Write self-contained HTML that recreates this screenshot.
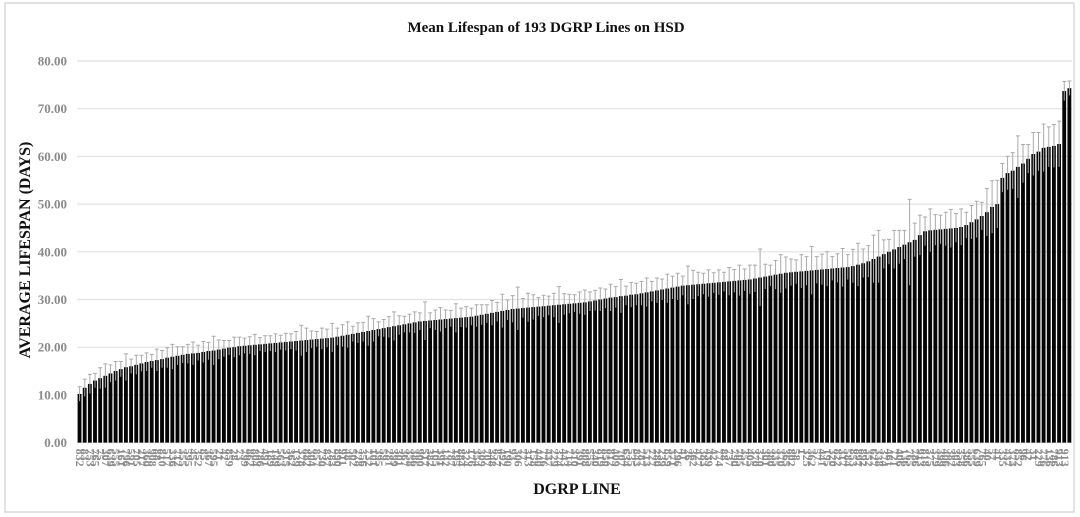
<!DOCTYPE html>
<html><head><meta charset="utf-8">
<style>
html,body{margin:0;padding:0;background:#fff;}
svg{display:block;font-family:"Liberation Serif",serif;}
</style></head>
<body>
<svg id="chart" width="1080" height="517" viewBox="0 0 1080 517" xmlns="http://www.w3.org/2000/svg">
<rect x="5" y="3" width="1069" height="509" fill="#fff" stroke="#d9d9d9" stroke-width="1.5"/>
<text x="546" y="32" text-anchor="middle" font-size="15" font-weight="bold" fill="#111">Mean Lifespan of 193 DGRP Lines on HSD</text>
<text transform="translate(30,250) rotate(-90)" text-anchor="middle" font-size="16" font-weight="bold" fill="#111">AVERAGE LIFESPAN (DAYS)</text>
<text x="577" y="494" text-anchor="middle" font-size="16" font-weight="bold" fill="#111">DGRP LINE</text>
<g id="grid"></g><g id="bars"></g><g id="errs"></g><g id="xlabels"></g><g id="ylabels"></g>
</svg>
<script>
const values=[10.2,11.5,12.3,13.0,13.5,14.0,14.5,15.0,15.4,15.8,16.0,16.3,16.6,16.9,17.1,17.3,17.5,17.8,18.0,18.2,
18.4,18.6,18.7,18.8,19.0,19.2,19.3,19.5,19.7,19.9,20.0,20.2,20.3,20.4,20.5,20.6,20.7,20.8,20.9,21.0,
21.1,21.2,21.3,21.4,21.5,21.6,21.7,21.8,21.9,22.0,22.2,22.4,22.6,22.8,23.0,23.2,23.4,23.6,23.8,24.0,
24.2,24.4,24.6,24.8,25.0,25.2,25.4,25.5,25.6,25.7,25.8,25.9,26.0,26.1,26.2,26.3,26.4,26.6,26.8,27.0,
27.2,27.4,27.6,27.8,28.0,28.1,28.2,28.3,28.4,28.5,28.6,28.7,28.8,28.9,29.0,29.1,29.2,29.3,29.4,29.6,
29.8,30.0,30.2,30.4,30.5,30.7,30.8,31.0,31.1,31.3,31.5,31.7,31.9,32.1,32.3,32.5,32.7,32.9,33.0,33.1,
33.2,33.3,33.4,33.5,33.6,33.7,33.8,33.9,34.0,34.1,34.2,34.4,34.6,34.8,35.0,35.2,35.4,35.6,35.7,35.8,
35.9,36.0,36.1,36.2,36.3,36.4,36.5,36.6,36.7,36.8,37.0,37.3,37.6,38.0,38.5,39.0,39.5,40.0,40.5,41.0,
41.5,42.0,42.5,43.5,44.3,44.5,44.6,44.7,44.8,44.9,45.0,45.2,45.6,46.2,46.8,47.5,48.3,49.4,50.0,55.5,
56.5,57.0,57.8,58.5,59.5,60.5,61.0,61.8,62.0,62.2,62.6,73.7,74.3];
const errors=[1.5,1.8,2.0,1.5,2.2,2.5,1.8,2.0,1.6,2.8,1.5,2.0,1.7,1.9,1.4,2.3,1.8,2.1,2.6,1.9,
1.7,2.0,2.4,1.6,2.2,1.8,3.0,2.0,1.7,1.5,2.1,1.9,1.6,1.8,2.2,1.4,1.7,1.6,1.9,1.5,
1.8,1.6,2.0,3.2,2.5,1.8,1.6,2.2,1.9,3.0,1.8,2.3,2.7,1.6,2.1,2.0,3.1,2.4,1.5,1.8,
2.2,3.0,2.0,1.7,1.9,2.2,1.8,4.0,1.6,2.1,2.5,1.9,1.7,3.0,2.0,2.2,1.8,2.3,2.1,1.9,
2.6,2.0,3.5,2.1,2.8,4.5,2.0,3.0,2.6,1.9,2.3,2.0,2.5,3.8,2.2,2.0,1.8,2.3,2.6,2.0,
2.1,2.4,2.0,2.8,2.2,3.5,2.0,2.6,2.3,2.5,3.0,2.1,2.6,2.2,3.0,2.4,2.8,2.0,4.0,3.0,
2.5,2.2,2.8,2.1,2.6,2.0,2.9,2.4,3.2,2.3,3.0,2.8,6.0,2.6,2.2,3.0,4.0,3.3,2.8,2.5,
3.5,3.0,5.0,2.8,3.2,3.6,2.5,3.0,4.0,2.6,3.5,4.5,3.0,3.3,5.0,5.5,3.0,2.6,4.0,3.5,
3.0,9.0,3.5,4.2,3.0,4.5,3.2,3.0,3.5,4.0,3.0,3.8,2.7,3.5,3.8,2.9,5.0,5.5,5.0,3.0,
3.5,3.8,6.5,4.0,3.0,4.5,4.0,5.0,4.2,4.5,4.8,2.0,1.5];
const labels=[832,83,753,765,75,307,639,555,161,796,591,705,217,360,908,88,810,517,336,712,
355,595,45,352,85,367,595,21,42,859,28,73,799,862,804,786,491,189,149,563,
315,362,139,378,882,304,857,730,837,783,890,911,48,502,228,356,732,101,395,59,
281,399,301,367,358,386,900,517,382,105,391,142,787,195,884,324,176,354,309,707,
348,857,492,190,93,306,77,313,158,440,776,437,229,374,443,714,310,391,808,555,
340,819,850,812,409,707,634,535,843,787,513,727,280,239,859,371,296,41,26,362,
427,383,439,42,774,88,737,790,705,357,405,370,370,301,380,335,370,365,802,58,
1,325,362,57,441,195,320,822,317,584,853,897,892,352,627,338,374,461,721,406,
136,765,786,913,818,375,379,399,406,382,303,358,386,555,639,765,40,57,41,
335,437,373,852,96,42,31,229,776,136,786,913,913];
const categories=labels.map(String);
const yTicks=[0,10,20,30,40,50,60,70,80];
const yTickLabels=["0.00","10.00","20.00","30.00","40.00","50.00","60.00","70.00","80.00"];

const NS="http://www.w3.org/2000/svg";
const X0=77,X1=1072,Y0=442.6,Y80=61;
const bw=(X1-X0)/values.length;
function yScale(v){return Y0-(v/80)*(Y0-Y80);}
function xScale(i){return X0+i*bw;}
function mk(tag,attrs,parent){const e=document.createElementNS(NS,tag);for(const k in attrs)e.setAttribute(k,attrs[k]);parent.appendChild(e);return e;}
const grid=document.getElementById('grid'),bars=document.getElementById('bars'),errs=document.getElementById('errs'),xl=document.getElementById('xlabels'),yl=document.getElementById('ylabels');
yTicks.forEach((t,k)=>{
  const l=mk('line',{x1:X0,x2:X1,y1:yScale(t),y2:yScale(t),stroke:'#e2e2e2','stroke-width':1.2},grid);
  
  
  const tx=mk('text',{x:67,y:yScale(t)+4.5,'text-anchor':'end','font-size':13,'font-weight':'bold',fill:'#8a8a8a'},yl);
  tx.textContent=yTickLabels[k];
  
  
});
values.forEach((v,i)=>{
  const x=xScale(i);
  const r=mk('rect',{x:x+0.6,y:yScale(v),width:bw-1.3,height:Y0-yScale(v),fill:'#050505'},bars);
  
  
  const cx=x+bw/2,e=errors[i];
  const g=mk('path',{d:`M${cx},${yScale(v-e)}V${yScale(v+e)}M${cx-2},${yScale(v+e)}H${cx+2}`,stroke:'#aaaaaa','stroke-width':1,fill:'none'},errs);
  
  
  const t=mk('text',{transform:`translate(${cx-3.5},${Y0+6}) rotate(90)`,'font-size':12,'font-weight':'bold',fill:'#8c8c8c'},xl);
  t.textContent=categories[i];
  
  
});
</script>
</body></html>
